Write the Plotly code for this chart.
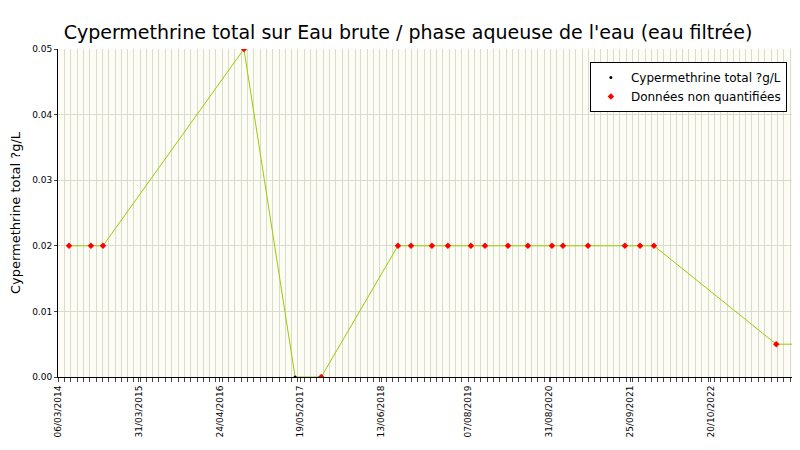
import plotly.graph_objects as go
import pandas as pd

dates = ["2014-04-28","2014-08-12","2014-10-09","2016-08-19","2017-04-23","2017-08-27",
         "2018-09-01","2018-11-03","2019-02-12","2019-04-30","2019-08-19","2019-10-26",
         "2020-02-14","2020-05-20","2020-09-13","2020-11-05","2021-03-06","2021-08-31",
         "2021-11-12","2022-01-18","2023-08-31","2023-12-09"]
values = [0.02,0.02,0.02,0.05,0.0,0.0,0.02,0.02,0.02,0.02,0.02,0.02,0.02,0.02,0.02,0.02,
          0.02,0.02,0.02,0.02,0.005,0.005]
quantified = [False,False,False,False,True,False]+[False]*16
tick_labels = ["06/03/2014","31/03/2015","24/04/2016","19/05/2017","13/06/2018",
               "07/08/2019","31/08/2020","25/09/2021","20/10/2022","14/12/2023"]

tickvals = [pd.to_datetime(t, format="%d/%m/%Y") for t in tick_labels]
start, end = tickvals[0], tickvals[-1]

qd = [d for d,q in zip(dates,quantified) if q]; qv=[v for v,q in zip(values,quantified) if q]
nd = [d for d,q in zip(dates,quantified) if not q]; nv=[v for v,q in zip(values,quantified) if not q]

fig = go.Figure()
fig.add_trace(go.Scatter(x=dates, y=values, mode="lines", line=dict(color="#99cc00", width=1), showlegend=False))
fig.add_trace(go.Scatter(x=qd, y=qv, mode="markers", marker=dict(color="black", size=3), name="Cypermethrine total ?g/L"))
fig.add_trace(go.Scatter(x=nd, y=nv, mode="markers", marker=dict(color="red", size=5, symbol="diamond"), name="Données non quantifiées"))

fig.update_layout(
    width=800, height=450, paper_bgcolor="white", plot_bgcolor="#fdfdf5",
    margin=dict(l=50, r=10, t=41, b=81, autoexpand=False),
    title=dict(text="Cypermethrine total sur Eau brute / phase aqueuse de l'eau (eau filtrée)",
               x=0.5, y=0.96, font=dict(family="DejaVu Sans", size=19, color="black")),
    font=dict(family="DejaVu Sans", size=10, color="black"),
    legend=dict(x=0.985, y=0.96, xanchor="right", yanchor="top", bgcolor="white",
                bordercolor="black", borderwidth=1, font=dict(size=12)),
)
fig.update_xaxes(range=[start, end], tickvals=tickvals, ticktext=tick_labels, tickangle=-90,
                 showgrid=False, ticks="outside", ticklen=4, showline=True, linecolor="black",
                 automargin=False,
                 minor=dict(dtick="M1", showgrid=True, gridcolor="#d8dccc", ticks="outside", ticklen=4, tick0="2014-03-06"),
                 tickfont=dict(size=9))
fig.update_yaxes(range=[0, 0.05], dtick=0.01, tickformat=".2f", showgrid=True, gridcolor="#d8dccc",
                 showline=True, linecolor="black", ticks="outside", ticklen=3, automargin=False,
                 title=dict(text="Cypermethrine total ?g/L", font=dict(size=13), standoff=8), tickfont=dict(size=9))
fig.write_html("out.html")
